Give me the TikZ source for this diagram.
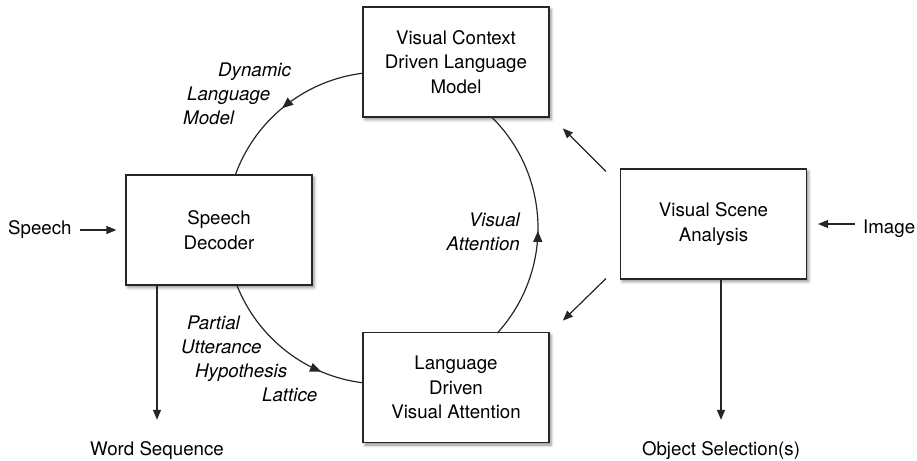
\documentclass[tikz,border=0pt]{standalone}
\usepackage{fontspec}
\setmainfont{TeX Gyre Heros}
\usetikzlibrary{arrows.meta,decorations.markings,shadows.blur,calc}

\begin{document}
\begin{tikzpicture}[x=1pt,y=1pt,
  font=\fontsize{18.7pt}{24.5pt}\selectfont,
  ink/.style={draw=black!85, line width=1.2pt},
  box/.style={ink, fill=white, minimum width=186pt, minimum height=110pt,
    align=center, inner sep=0pt,
    blur shadow={shadow xshift=2pt, shadow yshift=-2.5pt,
      shadow blur radius=3pt, shadow opacity=45}},
  lbl/.style={inner sep=0pt},
  tag/.style={inner sep=0pt, font=\fontsize{18.7pt}{24pt}\selectfont\itshape},
  arr/.style={ink, -{Triangle[length=10pt,width=8pt]}},
  flow/.style={ink, postaction={decorate},
    decoration={markings, mark=at position #1 with
      {\arrow{Triangle[length=11pt,width=9pt]}}}},
]
\useasboundingbox (0,0) rectangle (917,-460);

% processing blocks
\node[box] (vc)  at (456,-62)    {Visual Context\\Driven Language\\Model};
\node[box] (dec) at (219,-230)   {Speech\\Decoder};
\node[box] (vsa) at (713.5,-224) {Visual Scene\\Analysis};
\node[box] (lva) at (456,-387.5) {Language\\Driven\\Visual Attention};

% the feedback loop: three pieces of one circle between the blocks
\coordinate (c) at (382,-228);
\draw[flow=0.52] ($(c)+(97:156pt)$)    arc[start angle=97,    end angle=160.1, radius=156pt];
\draw[flow=0.47] ($(c)+(-42.3:156pt)$) arc[start angle=-42.3, end angle=45.4,  radius=156pt];
\draw[flow=0.74] ($(c)+(201.4:156pt)$) arc[start angle=201.4, end angle=263,   radius=156pt];

% loop labels (anchored on the baseline of their last line)
\node[tag, anchor=base west, align=left] (dlm) at (183,-124)
  {\hspace*{35pt}Dynamic\\\hspace*{4pt}Language\\Model};
\node[tag, anchor=base east, align=right] (vat) at (520,-250)
  {Visual\\Attention};
\node[tag, anchor=base west, align=left] (puh) at (181,-401)
  {\hspace*{6pt}Partial\\Utterance\\\hspace*{14pt}Hypothesis\\\hspace*{81pt}Lattice};

% inputs and outputs
\node[lbl, anchor=base west] (spin) at (8,-234)   {Speech};
\node[lbl, anchor=base west] (imin) at (863,-233) {Image};
\node[lbl, anchor=base] (wseq) at (157,-455) {Word Sequence};
\node[lbl, anchor=base] (osel) at (721,-455) {Object Selection(s)};

\draw[arr] ([xshift=8pt]spin.east |- dec.west) -- ([xshift=-9pt]dec.west);
\draw[arr] ([xshift=-8pt]imin.west |- vsa.east) -- ([xshift=11pt]vsa.east);
\draw[arr] (wseq.north |- dec.south) -- ([yshift=21pt]wseq.north);
\draw[arr] (osel.north |- vsa.south) -- ([yshift=21pt]osel.north);

% scene analysis feeding both halves of the loop
\draw[arr] ([shift={(-14pt,-3pt)}]vsa.north west) -- ([shift={(-57pt,40pt)}]vsa.north west);
\draw[arr] ([shift={(-14pt,1pt)}]vsa.south west) -- ([shift={(-57pt,-41pt)}]vsa.south west);
\end{tikzpicture}
\end{document}
